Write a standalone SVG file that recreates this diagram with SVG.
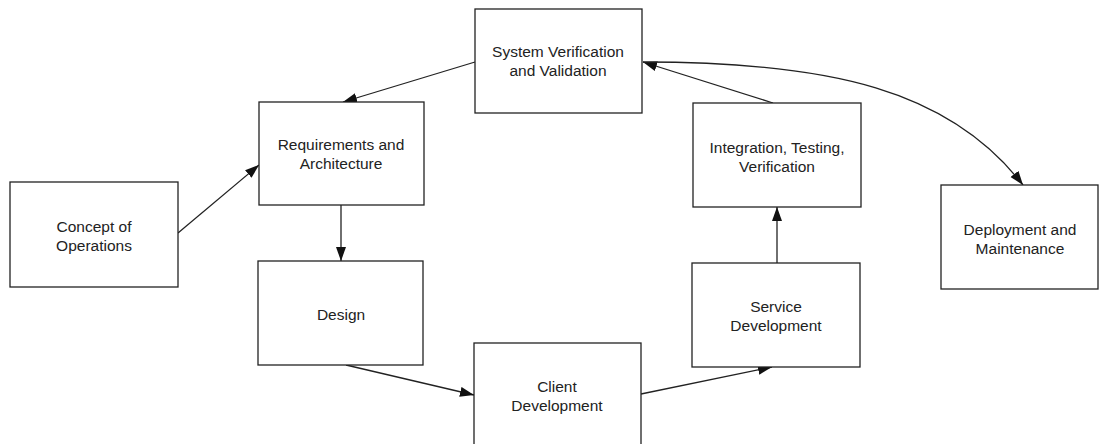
<svg xmlns="http://www.w3.org/2000/svg" width="1101" height="444" viewBox="0 0 1101 444">
<style>
.box{fill:#fff;stroke:#222;stroke-width:1.3}
.lbl{font-family:"Liberation Sans",Arial,sans-serif;font-size:15.5px;fill:#222;text-anchor:middle}
.con{fill:none;stroke:#222;stroke-width:1.3}
</style>
<defs>
<marker id="ah" markerUnits="userSpaceOnUse" markerWidth="15" markerHeight="12" refX="14" refY="5.5" orient="auto">
<path d="M0,0.5 L14,5.5 L0,10.5 z" fill="#111"/>
</marker>
</defs>
<rect width="1101" height="444" fill="#fff"/>
<g id="connectors">
<path class="con" d="M178,233 L259,165" marker-end="url(#ah)"/>
<path class="con" d="M475,62 L343,102" marker-end="url(#ah)"/>
<path class="con" d="M341,205 L341,261" marker-end="url(#ah)"/>
<path class="con" d="M346,365 L474,395" marker-end="url(#ah)"/>
<path class="con" d="M641,394 L772,367" marker-end="url(#ah)"/>
<path class="con" d="M777,263 L777,207" marker-end="url(#ah)"/>
<path class="con" d="M773,103 L643,62" marker-end="url(#ah)"/>
<path class="con" d="M643,62 C830,62 950,90 1023,185" marker-end="url(#ah)"/>
</g>
<g id="concept">
<rect class="box" x="10" y="182" width="168" height="105"/>
<text class="lbl" x="94" y="232">Concept of</text>
<text class="lbl" x="94" y="251">Operations</text>
</g>
<g id="requirements">
<rect class="box" x="259" y="102" width="165" height="103"/>
<text class="lbl" x="341" y="150">Requirements and</text>
<text class="lbl" x="341" y="169">Architecture</text>
</g>
<g id="sysvv">
<rect class="box" x="475" y="9" width="167" height="104"/>
<text class="lbl" x="558" y="57">System Verification</text>
<text class="lbl" x="558" y="76">and Validation</text>
</g>
<g id="design">
<rect class="box" x="258" y="261" width="165" height="104"/>
<text class="lbl" x="341" y="320">Design</text>
</g>
<g id="client">
<rect class="box" x="474" y="343" width="167" height="110"/>
<text class="lbl" x="557" y="392">Client</text>
<text class="lbl" x="557" y="411">Development</text>
</g>
<g id="service">
<rect class="box" x="692" y="263" width="168" height="104"/>
<text class="lbl" x="776" y="312">Service</text>
<text class="lbl" x="776" y="331">Development</text>
</g>
<g id="integration">
<rect class="box" x="693" y="103" width="168" height="104"/>
<text class="lbl" x="777" y="153">Integration, Testing,</text>
<text class="lbl" x="777" y="172">Verification</text>
</g>
<g id="deployment">
<rect class="box" x="941" y="185" width="157" height="104"/>
<text class="lbl" x="1020" y="235">Deployment and</text>
<text class="lbl" x="1020" y="254">Maintenance</text>
</g>
</svg>
